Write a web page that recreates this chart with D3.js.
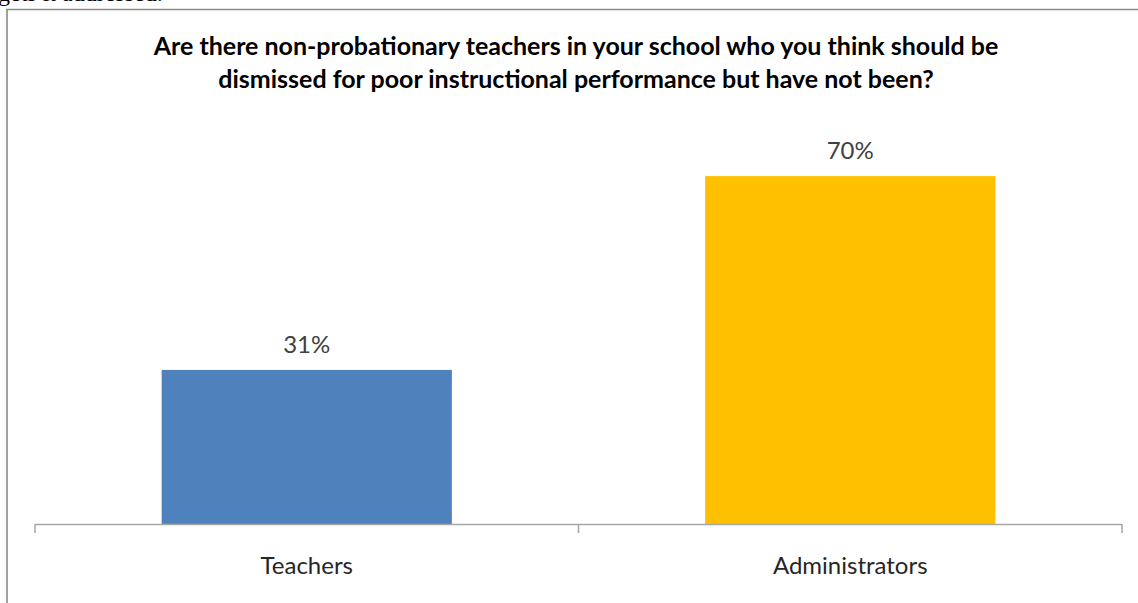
<!DOCTYPE html>
<html>
<head>
<meta charset="utf-8">
<script src="https://cdn.jsdelivr.net/npm/d3@7"></script>
<style>
  body { margin: 0; background: #fff; overflow: hidden; }
  svg { display: block; }
</style>
</head>
<body>
<script>
// Data
const categories = ["Teachers", "Administrators"]
const values = [0.31, 0.70]
const barColors = ["#4F81BD", "#FFC000"]
const titleLines = [
    "Are there non-probationary teachers in your school who you think should be",
    "dismissed for poor instructional performance but have not been?"
]
const aboveText = "gets it addressed."

// Main
let main = () => {
    const width = 1138
    const height = 603
    const axisY = 524
    const left = 35
    const right = 1122

    let svg = d3.select("body")
        .append("svg")
        .attr("width", width)
        .attr("height", height)

    // Text of the page above the chart, cut off by the crop as in the source
    svg.append("text")
        .attr("x", -2)
        .attr("y", 1)
        .style("font-family", "Liberation Serif, serif")
        .style("font-size", "24px")
        .attr("fill", "#000")
        .text(aboveText)

    // Chart frame
    svg.append("path")
        .attr("d", `M7,${height} V9.5 H${width}`)
        .attr("fill", "none")
        .attr("stroke", "#8a8a8a")
        .attr("stroke-width", 1.6)

    // Scales
    let xScale = d3.scaleBand()
        .domain(categories)
        .range([left, right])
        .paddingInner(0.466)
        .paddingOuter(0.233)
    let yScale = d3.scaleLinear()
        .domain([0, 0.8])
        .range([axisY, axisY - 0.8 * 497])

    // Bars
    svg.selectAll(".bar")
        .data(values).enter().append("rect")
        .attr("class", "bar")
        .attr("x", (d, i) => xScale(categories[i]))
        .attr("y", d => yScale(d))
        .attr("width", xScale.bandwidth())
        .attr("height", d => yScale(0) - yScale(d))
        .attr("fill", (d, i) => barColors[i])

    // Value labels
    svg.selectAll(".valueLabel")
        .data(values).enter().append("text")
        .attr("class", "valueLabel")
        .attr("x", (d, i) => xScale(categories[i]) + xScale.bandwidth() / 2)
        .attr("y", d => yScale(d) - 17)
        .attr("text-anchor", "middle")
        .style("font-family", "Lato, sans-serif")
        .style("font-size", "24px")
        .attr("fill", "#404040")
        .text(d => d3.format(".0%")(d))

    // X axis with ticks at band boundaries
    let axis = d3.axisBottom(xScale).tickSize(0).tickFormat("")
    let gx = svg.append("g")
        .attr("transform", `translate(0, ${axisY})`)
        .call(axis)
    gx.select(".domain").remove()
    gx.selectAll(".tick").remove()
    const step = xScale.step()
    const bounds = [left].concat(categories.map(c => xScale(c) + xScale.bandwidth() / 2 + step / 2))
    gx.append("line")
        .attr("x1", left).attr("x2", right)
        .attr("y1", 0.5).attr("y2", 0.5)
        .attr("stroke", "#a6a6a6")
        .attr("stroke-width", 1.5)
    gx.selectAll(".boundTick")
        .data(bounds).enter().append("line")
        .attr("class", "boundTick")
        .attr("x1", d => d).attr("x2", d => d)
        .attr("y1", 0).attr("y2", 9)
        .attr("stroke", "#a6a6a6")
        .attr("stroke-width", 1.5)

    // Category labels
    svg.selectAll(".catLabel")
        .data(categories).enter().append("text")
        .attr("class", "catLabel")
        .attr("x", d => xScale(d) + xScale.bandwidth() / 2)
        .attr("y", 574)
        .attr("text-anchor", "middle")
        .style("font-family", "Lato, sans-serif")
        .style("font-size", "24px")
        .attr("fill", "#262626")
        .text(d => d)

    // Title, sized so the first line spans the same width as the reference
    let title = svg.append("g")
    title.selectAll("text")
        .data(titleLines).enter().append("text")
        .attr("x", 576)
        .attr("y", (d, i) => 55 + i * 33)
        .attr("text-anchor", "middle")
        .style("font-family", "Lato, sans-serif")
        .style("font-weight", "bold")
        .style("font-size", "22px")
        .attr("fill", "#000")
        .text(d => d)
    const w = title.select("text").node().getComputedTextLength()
    title.selectAll("text").style("font-size", (22 * 845 / w) + "px")
}

main()
</script>
</body>
</html>
